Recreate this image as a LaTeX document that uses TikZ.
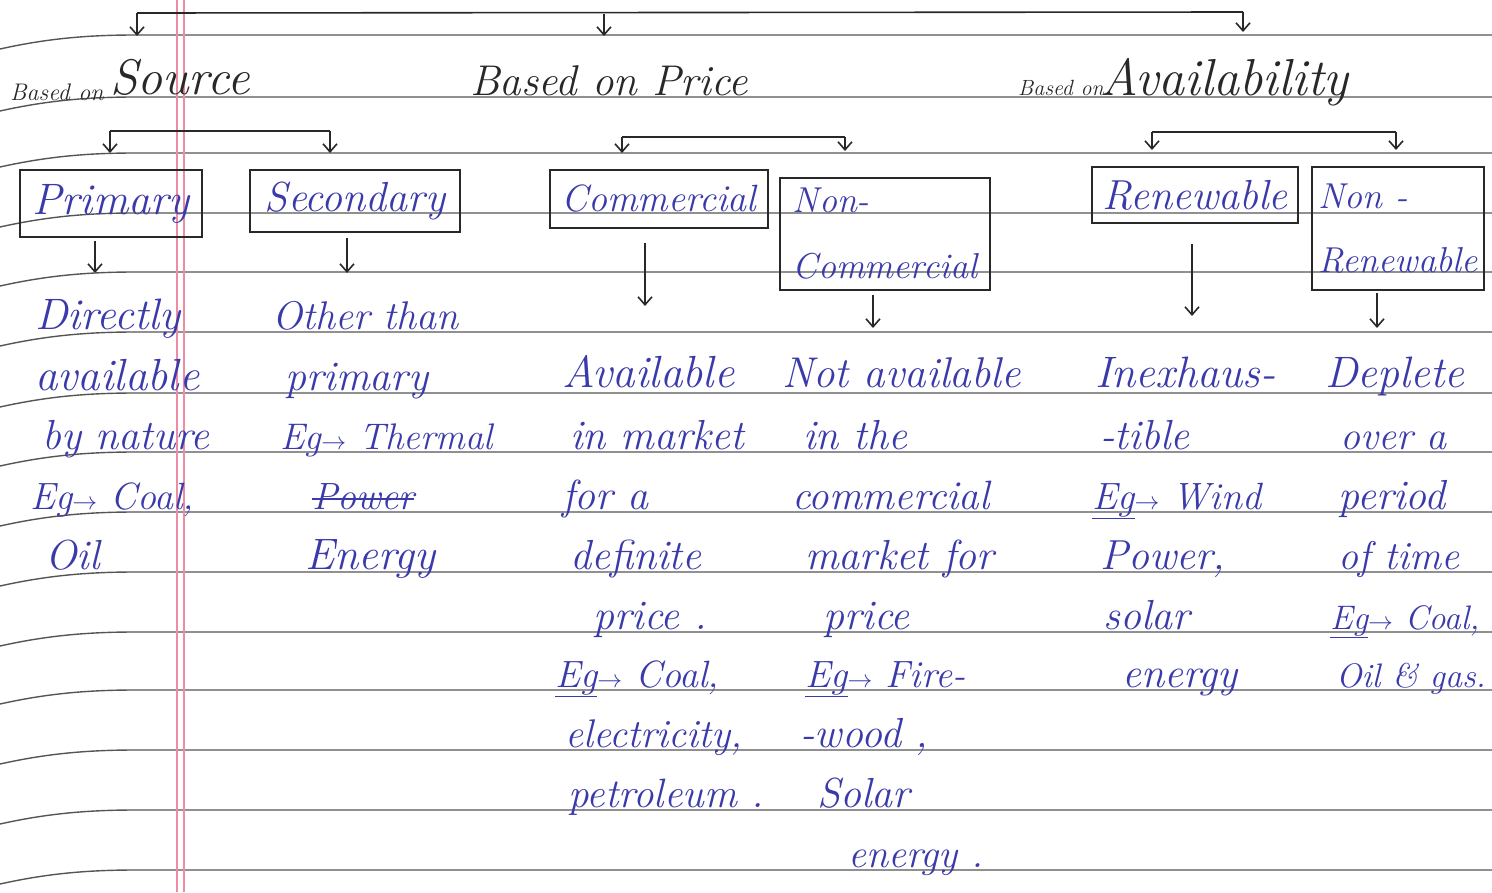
\documentclass[tikz,border=0pt]{standalone}
\usetikzlibrary{arrows.meta}
\definecolor{pen}{RGB}{58,58,170}
\definecolor{rulegray}{RGB}{85,85,85}
\definecolor{margin}{RGB}{236,140,165}
\definecolor{ink}{RGB}{40,40,40}
\newcommand{\fs}[1]{\fontsize{#1}{#1}\selectfont\itshape}
\begin{document}
\begin{tikzpicture}[x=1pt,y=-1pt,
  ruled/.style={rulegray,line width=1.4pt},
  hw/.style={pen,font=\fs{42},inner sep=0pt,anchor=base west},
  headsmall/.style={ink,font=\fs{25},inner sep=0pt,anchor=base west},
  headbig/.style={ink,font=\fs{46},inner sep=0pt,anchor=base west},
  boxy/.style={draw=ink,line width=2pt,text=pen,font=\fs{40},inner sep=0pt,align=left},
  conn/.style={ink,line width=1.6pt,-{Straight Barb[length=8pt,width=14pt,line width=1.6pt]}},
  brk/.style={ink,line width=1.6pt}]
\useasboundingbox (0,0) rectangle (1492,892);
\fill[white] (0,0) rectangle (1492,892);
% ruled lines
\foreach \yy in {35,97,153,213,272,332,393,452,512,572,632,690,750,810,870}{
  \draw[ruled] (0,\yy+14) .. controls (45,\yy+4) and (85,\yy) .. (135,\yy) -- (1492,\yy);
}
% margin
\draw[margin,line width=1.2pt] (177,0) -- (177,892);
\draw[margin,line width=1.2pt] (184,0) -- (184,892);

% headings
\node[headsmall,font=\fs{24}] (hSrcA) at (10,100) {Based on};
\node[headbig,font=\fs{50}] (hSrc) at (110,94) {Source};
\node[headbig,font=\fs{43}] (hPrice) at (470,95) {Based on Price};
\node[headsmall,font=\fs{22}] (hAvA) at (1018,95) {Based on};
\node[headbig,font=\fs{52}] (hAv) at (1100,95) {Availability};

% top bracket
\coordinate (t1) at (137,13);
\coordinate (t2) at (604,14);
\coordinate (t3) at (1243,12);
\draw[brk] (t1) -- (t3);
\draw[conn] (t1) -- (137,36);
\draw[conn] (t2) -- (604,36);
\draw[conn] (t3) -- (1243,32);

% boxes
\node[boxy,font=\fs{44},minimum width=182,minimum height=67] (bPrim) at (111,203.5) {Primary};
\node[boxy,font=\fs{42},minimum width=210,minimum height=62] (bSec) at (355,201) {Secondary};
\node[boxy,font=\fs{38},minimum width=218,minimum height=58] (bCom) at (659,199) {Commercial};
\node[boxy,font=\fs{36},minimum width=210,minimum height=112] (bNCom) at (885,234) {Non-\\[30pt]Commercial};
\node[boxy,font=\fs{42},minimum width=206,minimum height=56] (bRen) at (1195,195) {Renewable};
\node[boxy,font=\fs{36},minimum width=172,minimum height=123] (bNRen) at (1398,228.5) {Non -\\[28pt]Renewable};

% second-level brackets
\coordinate (s1) at (110,131); \coordinate (s2) at (330,131);
\coordinate (p1) at (622,137); \coordinate (p2) at (845,137);
\coordinate (r1) at (1152,132); \coordinate (r2) at (1396,132);
\draw[brk] (s1) -- (s2);
\draw[brk] (p1) -- (p2);
\draw[brk] (r1) -- (r2);
\draw[conn,shorten >=16pt] (s1) -- (s1 |- bPrim.north);
\draw[conn,shorten >=16pt] (s2) -- (s2 |- bSec.north);
\draw[conn,shorten >=16pt] (p1) -- (p1 |- bCom.north);
\draw[conn,shorten >=26pt] (p2) -- (p2 |- bNCom.north);
\draw[conn,shorten >=16pt] (r1) -- (r1 |- bRen.north);
\draw[conn,shorten >=16pt] (r2) -- (r2 |- bNRen.north);

% arrows below boxes
\coordinate (aPrim) at (95,273);
\coordinate (aSec) at (347,273);
\coordinate (aCom) at (645,306);
\coordinate (aNCom) at (873,328);
\coordinate (aRen) at (1192,316);
\coordinate (aNRen) at (1377,328);
\draw[conn] ([yshift=-3pt]bPrim.south -| aPrim) -- (aPrim);
\draw[conn] ([yshift=-5pt]bSec.south -| aSec) -- (aSec);
\draw[conn] ([yshift=-14pt]bCom.south -| aCom) -- (aCom);
\draw[conn] ([yshift=-4pt]bNCom.south -| aNCom) -- (aNCom);
\draw[conn] ([yshift=-20pt]bRen.south -| aRen) -- (aRen);
\draw[conn] ([yshift=-2pt]bNRen.south -| aNRen) -- (aNRen);

% column 1
\node[hw,font=\fs{44}] (c1a) at (35,329) {Directly};
\node[hw,font=\fs{45}] (c1b) at (35,390) {available};
\node[hw] (c1c) at (42,449) {by nature};
\node[hw,font=\fs{38}] (c1d) at (30,509) {Eg$\rightarrow$ Coal,};
\node[hw] (c1e) at (45,569) {Oil};
% column 2
\node[hw,font=\fs{40}] (c2a) at (272,329) {Other than};
\node[hw] (c2b) at (285,390) {primary};
\node[hw,font=\fs{37}] (c2c) at (280,449) {Eg$\rightarrow$ Thermal};
\node[hw,font=\fs{38}] (c2d) at (312,509) {Power};
\draw[pen,line width=1.3pt] ([yshift=10pt]c2d.base west) -- ([yshift=10pt]c2d.base east);
\node[hw,font=\fs{44}] (c2e) at (305,569) {Energy};
% column 3
\node[hw,font=\fs{45}] (c3a) at (562,387) {Available};
\node[hw] (c3b) at (570,449) {in market};
\node[hw] (c3c) at (562,509) {for a};
\node[hw] (c3d) at (570,569) {definite};
\node[hw] (c3e) at (593,629) {price .};
\node[hw,font=\fs{38}] (c3f) at (555,687) {\underline{Eg}$\rightarrow$ Coal,};
\node[hw,font=\fs{40}] (c3g) at (565,747) {electricity,};
\node[hw,font=\fs{41}] (c3h) at (568,807) {petroleum .};
% column 4
\node[hw,font=\fs{43}] (c4a) at (782,387) {Not available};
\node[hw] (c4b) at (803,449) {in the};
\node[hw,font=\fs{41}] (c4c) at (792,509) {commercial};
\node[hw,font=\fs{42}] (c4d) at (805,569) {market for};
\node[hw] (c4e) at (823,629) {price};
\node[hw,font=\fs{38}] (c4f) at (805,687) {\underline{Eg}$\rightarrow$ Fire-};
\node[hw] (c4g) at (800,747) {-wood ,};
\node[hw] (c4h) at (817,807) {Solar};
\node[hw,font=\fs{40}] (c4i) at (848,867) {energy .};
% column 5
\node[hw,font=\fs{44}] (c5a) at (1095,387) {Inexhaus-};
\node[hw] (c5b) at (1100,449) {-tible};
\node[hw,font=\fs{38}] (c5c) at (1092,509) {\underline{Eg}$\rightarrow$ Wind};
\node[hw] (c5d) at (1100,569) {Power,};
\node[hw] (c5e) at (1103,629) {solar};
\node[hw] (c5f) at (1122,687) {energy};
% column 6
\node[hw,font=\fs{44}] (c6a) at (1325,387) {Deplete};
\node[hw,font=\fs{40}] (c6b) at (1340,449) {over a};
\node[hw] (c6c) at (1338,509) {period};
\node[hw,font=\fs{40}] (c6d) at (1338,569) {of time};
\node[hw,font=\fs{34}] (c6e) at (1330,629) {\underline{Eg}$\rightarrow$ Coal,};
\node[hw,font=\fs{34}] (c6f) at (1336,687) {Oil \& gas.};
\end{tikzpicture}
\end{document}
